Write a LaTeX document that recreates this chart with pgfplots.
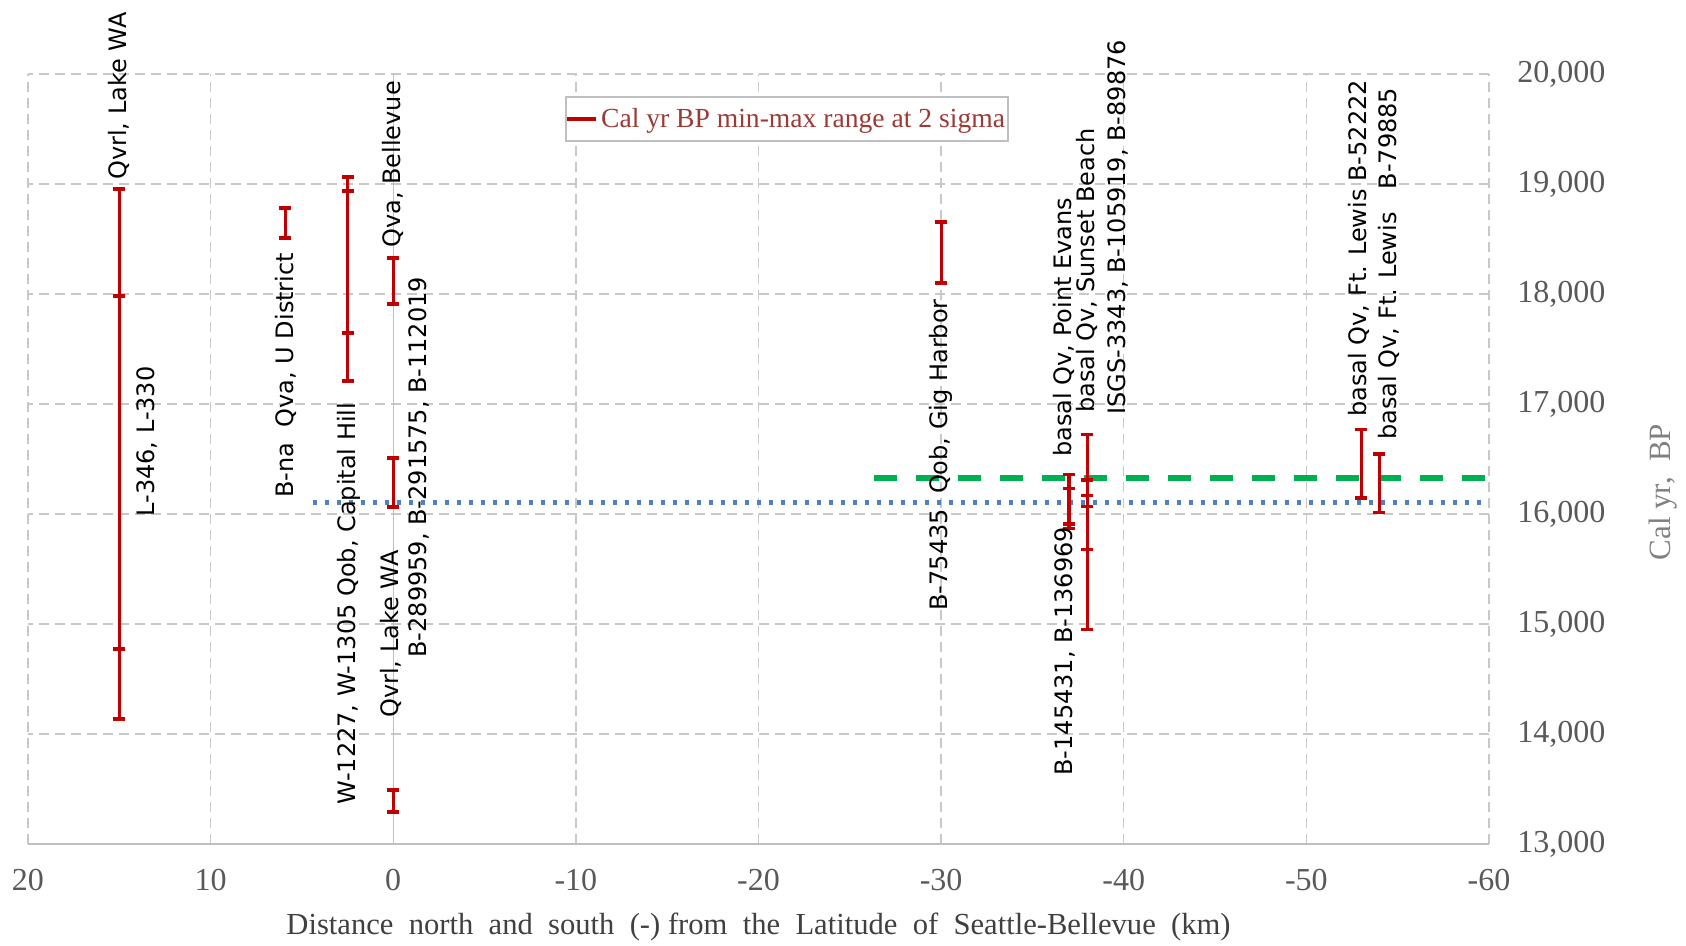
\documentclass[border=0pt]{standalone}
\usepackage{fontspec}
\setmainfont{Liberation Serif}
\newfontfamily\lab{DejaVu Sans}
\usepackage{pgfplots}
\usepackage{pgfplotstable}
\pgfplotsset{compat=1.18}
\definecolor{barred}{HTML}{C00000}
\definecolor{legred}{HTML}{9C3A36}
\definecolor{tickgray}{HTML}{595959}
\definecolor{xlabgray}{HTML}{404040}
\definecolor{ylabgray}{HTML}{808080}
\definecolor{gridgray}{HTML}{C8C8C8}
\definecolor{axgray}{HTML}{BFBFBF}
\definecolor{lgreen}{HTML}{00B050}
\definecolor{lblue}{HTML}{4F81BD}

\pgfplotstableread{
x lo hi
15 14136 17982
15 14773 18955
5.9 18509 18782
2.5 17209 18936
2.5 17645 19064
0 17909 18327
0 16064 16509
0 13291 13491
-30 18100 18655
-37 15870 16360
-37 15910 16235
-38 14950 16725
-38 15680 16310
-38 16066 16165
-53 16145 16768
-54 16012 16545
}\ranges

\begin{document}
\begin{tikzpicture}
\begin{axis}[
  scale only axis, width=730.5pt, height=385pt,
  x dir=reverse, xmin=-60, xmax=20, ymin=13000, ymax=20000,
  xtick={-60,-50,...,20}, ytick={13000,14000,...,20000},
  scaled y ticks=false, scaled x ticks=false,
  /pgf/number format/assume math mode=true,
  /pgf/number format/1000 sep={,},
  yticklabel pos=right,
  grid=major,
  major grid style={gridgray, line width=0.7pt, dash pattern=on 5pt off 3pt},
  axis line style={draw=none},
  major tick length=0pt,
  tick label style={font=\fontsize{16}{18}\selectfont, text=tickgray},
  xticklabel style={anchor=base, yshift=-23.5pt},
  yticklabel style={anchor=west, inner sep=0pt, xshift=14pt},
  xlabel={Distance\ \ north\ \ and\ \ south\ \ (-) from\ \ the\ \ Latitude\ \ of\ \ Seattle-Bellevue\ \ (km)},
  xlabel style={at={(axis description cs:0.5,0)}, anchor=center, yshift=-41.5pt, font=\fontsize{15.3}{18}\selectfont, text=xlabgray},
  ylabel={Cal yr,\ \ BP},
  ylabel style={at={(axis description cs:1.119,0.457)}, anchor=center, font=\fontsize{15.5}{18}\selectfont, text=ylabgray},
  clip=false,
  legend style={at={(0.5195,0.9416)}, anchor=center, draw=axgray, line width=0.8pt,
    inner sep=0pt, nodes={inner ysep=5.5pt, inner xsep=1.5pt},
    font=\fontsize{13.8}{16}\selectfont, text=legred},
  legend cell align=left,
]
\addplot[forget plot, axgray, line width=0.7pt] coordinates {(0,13000) (0,20000)};
\addplot[forget plot, axgray, line width=1pt] coordinates {(20,13000) (-60,13000)};
\addplot[forget plot, lgreen, line width=2.8pt, dash pattern=on 11.7pt off 9.3pt] coordinates {(-26.3,16325) (-59.8,16325)};
\addplot[forget plot, lblue, line width=2.3pt, dash pattern=on 2.3pt off 3.7pt] coordinates {(4.4,16107) (-59.6,16107)};
\addplot[draw=none, mark=none,
  legend image code/.code={\draw[barred, line width=1.6pt] (0pt,0pt) -- (14.5pt,0pt);},
  error bars/.cd, y dir=both, y explicit,
  error bar style={draw=barred, line width=1.6pt},
  error mark options={draw=barred, rotate=90, mark size=3pt, line width=1.6pt}]
  table[x=x, y expr={(\thisrow{lo}+\thisrow{hi})/2}, y error expr={(\thisrow{hi}-\thisrow{lo})/2}] {\ranges};
\addlegendentry{Cal yr BP min-max range at 2 sigma}

\begin{scope}[every node/.style={rotate=90, anchor=west, inner sep=0pt, font=\lab\fontsize{12}{14}\selectfont}]
\node at (axis cs:15,19036) {Qvrl, Lake WA};
\node at (axis cs:13.5,15973) {L-346, L-330};
\node at (axis cs:5.9,16145) {B-na\ \ Qva, U District};
\node at (axis cs:2.45,13355) {W-1227, W-1305 Qob, Capital Hill};
\node at (axis cs:0,18418) {Qva, Bellevue};
\node at (axis cs:0.15,14145) {Qvrl, Lake WA};
\node at (axis cs:-1.4,14691) {B-289959, B-291575, B-112019};
\node at (axis cs:-30,15118) {B-75435\ \ Qob, Gig Harbor};
\node at (axis cs:-36.8,13618) {B-145431, B-136969};
\node at (axis cs:-36.7,16518) {basal Qv, Point Evans};
\node at (axis cs:-38.0,16918) {basal Qv, Sunset Beach};
\node at (axis cs:-39.7,16900) {ISGS-3343, B-105919, B-89876};
\node at (axis cs:-52.9,16882) {basal Qv, Ft. Lewis B-52222};
\node at (axis cs:-54.5,16673) {basal Qv, Ft. Lewis\ \ \ B-79885};
\end{scope}
\end{axis}
\pgfresetboundingbox
\path[use as bounding box] (-14pt,-51pt) rectangle (829pt,422pt);
\end{tikzpicture}
\end{document}
